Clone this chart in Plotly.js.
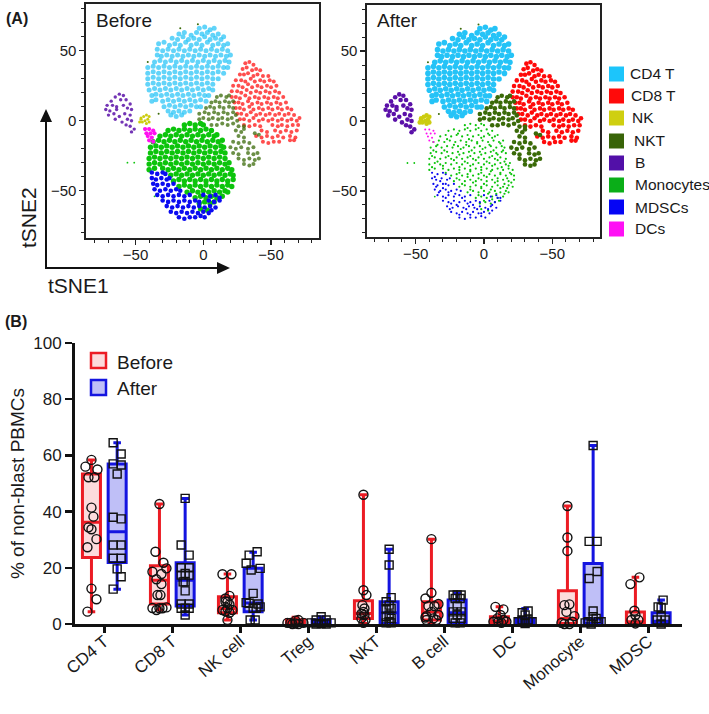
<!DOCTYPE html>
<html><head><meta charset="utf-8">
<script src="https://cdn.plot.ly/plotly-3.0.1.min.js"></script>
<style>html,body{margin:0;padding:0;background:#fff}#c{width:709px;height:714px}</style>
</head><body><div id="c"></div>
<script>
// ---- tSNE clusters: [tSNE1, tSNE2] ----
const cd4Points=[[-3,66],[1,67],[5,65],[8,66],
[-18,62],[-14,63],[-9,61],[-5,63],[-1,62],[3,63],[7,61],[11,62],
[-23,59],[-19,58],[-15,60],[-11,58],[-7,59],[-3,58],[1,60],[5,58],[9,59],[13,58],[15,60],
[-33,55],[-29,56],[-25,54],[-21,55],[-17,54],[-13,56],[-9,54],[-5,55],[-1,54],[3,56],[7,54],[11,55],[15,54],[18,55],
[-34,51],[-30,50],[-26,51],[-22,50],[-18,51],[-14,50],[-10,51],[-6,50],[-2,51],[2,50],[6,51],[10,50],[14,51],[18,50],
[-34,47],[-31,46],[-27,47],[-23,46],[-19,47],[-15,46],[-11,47],[-7,46],[-3,47],[1,46],[5,47],[9,46],[13,47],[17,46],[20,47],
[-36,42],[-32,43],[-28,42],[-24,43],[-20,42],[-16,43],[-12,42],[-8,43],[-4,42],[0,43],[4,42],[8,43],[12,42],[16,43],[19,42],
[-41,38],[-37,39],[-33,38],[-29,39],[-25,38],[-21,39],[-17,38],[-13,39],[-9,38],[-5,39],[-1,38],[3,39],[7,38],[11,39],[15,38],[18,38],
[-41,34],[-37,35],[-33,34],[-29,35],[-25,34],[-21,35],[-17,34],[-13,35],[-9,34],[-5,35],[-1,34],[3,35],[7,34],[11,35],[15,34],
[-41,30],[-37,31],[-33,30],[-29,31],[-25,30],[-21,31],[-17,30],[-13,31],[-9,30],[-5,31],[-1,30],[3,31],[7,30],[11,30],
[-41,26],[-37,27],[-33,26],[-29,27],[-25,26],[-21,27],[-17,26],[-13,27],[-9,26],[-5,27],[-1,26],[3,27],[7,26],
[-40,22],[-36,23],[-32,22],[-28,23],[-24,22],[-20,23],[-16,22],[-12,23],[-8,22],[-4,23],[0,22],[4,23],[7,22],
[-38,18],[-35,19],[-31,18],[-27,19],[-23,18],[-19,19],[-15,18],[-11,19],[-7,18],[-3,19],[1,18],[4,18],
[-38,14],[-35,15],[-30,14],[-26,15],[-22,14],[-18,15],[-14,14],[-10,15],[-6,14],[-2,15],[2,14],
[-29,10],[-25,11],[-21,10],[-17,11],[-13,10],[-9,11],[-5,10],[-2,10],
[-26,7],[-22,6],[-18,7],[-14,6],[-10,7],[-24,4],[-20,3],[-16,4]];
const cd8Points=[[31,41],[34,42],[37,40],
[29,37],[32,38],[36,36],[39,37],[42,36],
[27,33],[30,33],[33,34],[37,32],[40,33],[44,32],[48,32],
[24,29],[28,29],[31,28],[35,30],[38,28],[42,29],[45,28],[49,29],[52,28],
[22,25],[26,25],[29,24],[33,26],[36,24],[40,25],[43,24],[47,25],[50,24],[54,25],
[21,21],[25,21],[28,20],[32,22],[35,20],[39,21],[42,20],[46,21],[49,20],[53,21],[56,20],
[21,17],[24,17],[27,16],[31,18],[34,16],[38,17],[41,16],[45,17],[48,16],[52,17],[55,16],[59,17],
[23,13],[26,13],[29,12],[33,14],[36,12],[40,13],[43,12],[47,13],[50,12],[54,13],[57,12],[61,13],
[24,9],[27,9],[30,8],[34,10],[37,8],[41,9],[44,8],[48,9],[51,8],[55,9],[58,8],[62,9],[65,8],
[25,5],[28,5],[32,4],[35,6],[39,4],[42,5],[46,4],[49,5],[53,4],[56,5],[60,4],[63,5],[67,4],
[27,1],[30,1],[34,0],[37,2],[41,0],[44,1],[48,0],[51,1],[55,0],[58,1],[62,0],[65,1],[69,0],[71,2],
[30,-3],[34,-4],[38,-3],[42,-4],[51,-3],[55,-4],[58,-3],[62,-4],[66,-3],[70,-3],
[43,-7],[47,-8],[53,-7],[57,-8],[61,-7],[65,-8],[69,-7],
[39,-11],[43,-12],[47,-11],[51,-12],[55,-11],[59,-12],[64,-11],[68,-12],
[44,-15],[48,-16],[52,-15],[56,-15],[64,-14],[67,-14]];
const nktPoints=[[10,17],[13,18],[17,17],[19,18],
[6,13],[9,14],[12,13],[16,14],[19,13],[22,14],
[2,9],[5,10],[8,9],[12,10],[15,9],[19,10],[22,9],
[-3,5],[1,6],[4,5],[8,6],[11,5],[15,6],[18,5],[22,6],[24,4],
[-3,1],[0,2],[4,1],[7,2],[11,1],[14,2],[18,1],[21,2],[25,0],
[6,-3],[10,-3],[14,-2],[18,-3],[22,-2],[26,-4],[30,-4],
[24,-7],[28,-8],[30,-6],[26,-11],[30,-12],
[22,-15],[26,-16],[30,-15],[34,-16],
[20,-19],[24,-20],[28,-19],[33,-20],[37,-19],
[22,-23],[26,-24],[33,-23],[37,-24],[40,-23],
[26,-27],[30,-28],[34,-27],[38,-28],[41,-27],
[30,-31],[34,-32],[37,-31],[38,-9],[41,-10]];
const bPoints=[[-62,19],[-59,18],[-65,17],[-68,14],[-61,15],[-57,15],[-54,12],[-71,11],[-67,11],[-72,8],[-69,7],[-64,10],
[-56,9],[-53,8],[-59,11],[-70,4],[-66,5],[-62,3],[-58,5],[-54,4],[-56,1],[-53,0],[-65,1],[-60,-1],[-57,-3],[-54,-4],[-51,-6],[-53,-8],[-64,8]];
const nkPoints=[[-46,1],[-44,3],[-42,4],[-40,3],[-47,-1],[-45,-1],[-43,0],[-41,1],[-40,-1],[-42,-2],[-46,2]];
const dcPoints=[[-43,-6],[-40,-6],[-37,-7],[-42,-9],[-39,-9],[-36,-9],[-41,-11],[-38,-12],[-40,-14],[-37,-15]];
const monoPoints=[[-14,-3],[-10,-2],[-6,-3],[-2,-2],[0,-3],
[-26,-7],[-22,-6],[-18,-7],[-14,-6],[-10,-7],[-6,-6],[-2,-7],[2,-6],[6,-7],
[-32,-11],[-28,-10],[-24,-11],[-20,-10],[-16,-11],[-12,-10],[-8,-11],[-4,-10],[0,-11],[4,-10],[8,-11],[10,-10],
[-37,-15],[-33,-14],[-29,-15],[-25,-14],[-21,-15],[-17,-14],[-13,-15],[-9,-14],[-5,-15],[-1,-14],[3,-15],[7,-14],[11,-15],[14,-14],
[-39,-19],[-35,-18],[-31,-19],[-27,-18],[-23,-19],[-19,-18],[-15,-19],[-11,-18],[-7,-19],[-3,-18],[1,-19],[5,-18],[9,-19],[13,-18],[15,-19],
[-39,-23],[-35,-22],[-31,-23],[-27,-22],[-23,-23],[-19,-22],[-15,-23],[-11,-22],[-7,-23],[-3,-22],[1,-23],[5,-22],[9,-23],[13,-22],[16,-23],
[-40,-27],[-36,-26],[-32,-27],[-28,-26],[-24,-27],[-20,-26],[-16,-27],[-12,-26],[-8,-27],[-4,-26],[0,-27],[4,-26],[8,-27],[12,-26],[16,-27],
[-40,-31],[-36,-30],[-32,-31],[-28,-30],[-24,-31],[-20,-30],[-16,-31],[-12,-30],[-8,-31],[-4,-30],[0,-31],[4,-30],[8,-31],[12,-30],[16,-31],[19,-30],
[-40,-35],[-36,-34],[-30,-34],[-26,-35],[-22,-34],[-18,-35],[-14,-34],[-10,-35],[-6,-34],[-2,-35],[2,-34],[6,-35],[10,-34],[14,-35],[18,-34],[21,-35],
[-24,-39],[-20,-38],[-16,-39],[-12,-38],[-8,-39],[-4,-38],[0,-39],[4,-38],[8,-39],[12,-38],[16,-39],[20,-38],[22,-39],
[-22,-43],[-18,-42],[-14,-43],[-10,-42],[-6,-43],[-2,-42],[2,-43],[6,-42],[10,-43],[14,-42],[18,-43],[22,-42],
[-18,-47],[-14,-46],[-10,-47],[-6,-46],[-2,-47],[2,-46],[6,-47],[10,-46],[14,-47],[18,-46],[21,-47],
[-12,-51],[-8,-50],[-4,-51],[0,-50],[4,-51],[8,-50],[12,-51],[16,-50],[18,-51],
[-6,-55],[-2,-54],[2,-55],[6,-54],[10,-55],[14,-54],[-3,-59],[1,-58],[5,-59],[8,-58],[-2,-63],[3,-64]];
const monoAfterExtra=[[-12,-5],[-4,-5],[3,-9],[-19,-9],[-27,-13],[-11,-13],[-2,-12],[6,-12],[-34,-17],[-22,-17],[-13,-17],[-5,-16],[4,-17],[12,-16],
[-37,-21],[-29,-21],[-17,-20],[-9,-21],[-1,-20],[7,-21],[14,-21],[-38,-25],[-26,-25],[-18,-24],[-10,-25],[-2,-24],[6,-25],[10,-24],
[-34,-29],[-22,-28],[-14,-29],[-6,-28],[2,-29],[10,-28],[15,-29],[-38,-33],[-30,-32],[-18,-33],[-10,-32],[-2,-33],[6,-32],[13,-33],[18,-32],
[-28,-37],[-18,-37],[-10,-36],[-2,-37],[5,-36],[12,-37],[19,-37],[-20,-41],[-12,-40],[-4,-41],[2,-40],[10,-41],[17,-41],[-16,-45],[-8,-44],[0,-45],
[8,-44],[15,-45],[20,-44],[-10,-49],[-2,-48],[5,-49],[12,-48],[17,-48],[-4,-53],[3,-52],[9,-52],[15,-52],[0,-57],[6,-56],[11,-57]];
const mdscPoints=[[-38,-37],[-34,-38],[-30,-37],[-28,-38],
[-38,-41],[-35,-42],[-31,-41],[-27,-42],[-25,-41],
[-37,-45],[-34,-46],[-30,-45],[-26,-46],[-22,-45],
[-36,-49],[-32,-50],[-28,-49],[-24,-50],[-20,-49],[-17,-50],
[-34,-53],[-30,-54],[-26,-53],[-22,-54],[-18,-53],[-14,-54],[-10,-53],[0,-53],[5,-54],[9,-53],[12,-55],
[-30,-57],[-26,-58],[-22,-57],[-18,-58],[-14,-57],[-10,-58],[-6,-57],[-3,-58],[4,-57],[8,-58],[12,-57],
[-27,-61],[-23,-62],[-19,-61],[-15,-62],[-11,-61],[-7,-62],[-3,-61],[1,-62],[5,-61],[9,-62],
[-24,-65],[-20,-66],[-16,-65],[-12,-66],[-8,-65],[-4,-66],[0,-65],[4,-66],[6,-64],
[-18,-69],[-14,-70],[-10,-69],[-6,-69],[-2,-68],[1,-69]];
const mdscAfterExtra=[[-36,-40],[-32,-43],[-28,-45],[-35,-47],[-30,-48],[-26,-51],[-33,-51],[-21,-52],[-28,-55],[-16,-55],[-24,-59],[-12,-59],[-20,-60],[-8,-60],[-25,-63],[-13,-63],[-5,-63],[3,-63],[-18,-67],[-10,-67],[-2,-66],[6,-60],[10,-55]];
const strayGreen=[[-56,-30],[-51,-30],[-36,-54]];
const strayDark=[[-4,69],[-17,66],[-41,42],[-33,5]];
const clusterNames=['CD4 T','CD8 T','NK','NKT','B','Monocytes','MDSCs','DCs'];
const clusterTicks=[-50,0,50];
const clusterTickText=['\u221250','0','\u221250'];
const clusterYTickText=['\u221250','0','50'];

// ---- panel B: categories, box statistics, individual values [value, swarm offset] ----
const categories=['CD4 T','CD8 T','NK cell','Treg','NKT','B cell','DC','Monocyte','MDSC'];
const beforeQ1=[23.7,7.1,4,0.3,2,1.4,0.2,0.2,0.2];
const beforeMedian=[36.2,15.6,5.5,0.8,3.7,4.3,1,2,0.8];
const beforeQ3=[53.4,20.7,9.7,1.5,8.3,7.9,2.6,11.8,4.3];
const beforeLow=[4.4,5,1.4,0.1,0.2,0.2,0.1,0.2,0.2];
const beforeHigh=[58.4,42.7,17.8,2.4,46,30.2,6.1,42,16.6];
const afterQ1=[21.9,6.4,4.4,0.3,0.2,0.4,0.2,0.2,0.2];
const afterMedian=[32.8,15.6,7.5,0.8,4,4,1,1.8,1];
const afterQ3=[56.9,21.8,19.8,1.5,7.9,8.5,2,21.5,4];
const afterLow=[12.4,3.2,1.4,0.1,0.2,0.4,0.1,0.2,0.2];
const afterHigh=[64.5,44.7,25.5,2.6,26.6,10.9,5.5,63.5,8.5];
const beforeValues=[
[[58.4,0],[56,-6],[55,6],[52.2,-3],[52.2,3],[41.4,0],[38.2,2],[34.4,-3],[33.7,0],[30.2,5],[27.3,-4],[12.6,0],[8.8,5],[4.4,-4]],
[[42.7,0],[25.7,-4],[21.8,4],[19.8,7],[18.6,-7],[17.8,2],[15.9,-3],[14.2,2],[10.3,-2],[10.3,1],[5.7,-7],[5.9,7],[5,-3],[5.6,3],[5.6,0]],
[[17.7,-5],[17.7,4],[9.1,-2],[10,2],[7.9,0],[5,-5],[5,5],[1.4,0],[8,-2],[7,2],[5.6,0],[4.5,-2],[4,2]],
[[0.4,-5],[1.4,3],[0.2,0],[0.4,-8],[0.4,8],[0,-3],[0,3],[1.2,0]],
[[46,0],[12,0],[10.3,3],[6.7,-1],[5.5,1],[4.3,0],[3.2,1],[2,-2],[1.4,2],[0.4,0],[3.7,-2]],
[[30.2,0],[11.1,0],[9.1,-6],[7.1,7],[6.4,-3],[6.4,3],[4.3,0],[2.8,-5],[3.2,7],[2,2],[2.3,-6],[1.4,-5],[1.4,5],[-0.4,-1]],
[[6.1,-4],[5.2,4],[3.2,1],[2,-2],[1.4,4],[0.8,-6],[0.8,7],[-0.4,1],[0.8,-1],[0.4,2]],
[[42,0],[30.8,0],[26,0],[6.7,-3],[7,2],[4.3,-1],[2.8,7],[0.4,-6],[0,-3],[0,2],[0.8,5]],
[[16.6,4],[14.2,-5],[4.7,-1],[3.2,0],[1.4,-4],[1.4,3],[0.2,0],[-0.4,-3],[-0.1,3]]];
const afterValues=[
[[64.5,-4],[60.5,4],[57,-4],[56.6,4],[53.4,0],[38,-4],[37.4,4],[28.1,-4],[28.1,4],[23.4,-4],[23.4,4],[19.6,0],[16.8,4],[12.4,-4]],
[[44.7,0],[28.1,-4],[24.5,4],[20,-4],[20,4],[18,0],[17.4,-4],[17.4,4],[15,0],[15,-2],[11.8,0],[7.1,-4],[7.1,4],[5.6,0],[5.6,-4],[5.6,4],[3.2,0]],
[[25.7,4],[24.5,-4],[21.6,-7],[19.2,-2],[19.8,7],[10.9,0],[7.6,-7],[7.4,-4],[7.1,5],[6.1,7],[5.6,0],[5.6,3],[1.4,-3],[1.4,2]],
[[2.6,0],[1.4,-5],[1.4,5],[0.4,-10],[0.4,10],[0.2,0],[0,-5],[0,5]],
[[26.6,0],[21,0],[9.4,2],[7.9,-3],[6.7,0],[5.5,-3],[5.5,2],[3.2,0],[2.6,-3],[2,2],[0.8,0],[0.4,-3],[0.4,2]],
[[10.3,0],[10.3,-4],[10.3,4],[9.1,-2],[9.1,3],[6.4,0],[4.3,-4],[4.3,4],[3.2,0],[2,-4],[2,4],[-0.4,0],[0.4,-2],[0.4,3]],
[[4.6,3],[4,-3],[3.2,0],[0.8,-7],[0.8,7],[0.2,0],[1.4,-3],[1.4,3],[-1,0]],
[[63.5,0],[29.4,-4],[29.4,4],[18.7,4],[16.2,-4],[4.6,0],[0.8,-5],[0.8,5],[2.6,0],[0.4,-8],[2,3],[0.8,8],[0,-2]],
[[8.5,2],[6.1,-3],[5.9,0],[2.6,0],[1.4,-4],[1.4,4],[0,0],[-0.7,-3],[-0.7,3]]];

// ---- helpers: page pixels to paper coordinates ----
const W=709,H=714;
const px=x=>x/W, py=y=>1-y/H;
const FONT='"Liberation Sans", Arial, sans-serif', INK='#1a1a1a';
const colors={'CD4 T':'#25C3F7','CD8 T':'#FF0A0A','NK':'#CCCC10','NKT':'#3A6A08','B':'#5A10A8','Monocytes':'#0CC40C','MDSCs':'#0A0AF0','DCs':'#FF10F0'};
const legendColors=['#1CC5FB','#FF0A0A','#CFCF10','#386408','#5210A8','#0AAE18','#0505F5','#FF10F5'];
const legendCenters=[74,96,118,141,163,185,207,229];
const legendTextX=[628,629,630,632,633,633,633,633];

function cloud(name,pts,size,ax,ay,op){
  return {type:'scatter',mode:'markers',x:pts.map(p=>p[0]),y:pts.map(p=>p[1]),xaxis:ax,yaxis:ay,
    marker:{size:size,color:colors[name],opacity:op||1,line:{width:0}},showlegend:false,hoverinfo:'skip',name:name};
}
const clusterData={'CD4 T':cd4Points,'CD8 T':cd8Points,'NK':nkPoints,'NKT':nktPoints,'B':bPoints,'Monocytes':monoPoints,'MDSCs':mdscPoints,'DCs':dcPoints};
const sizesBefore={'CD4 T':5,'CD8 T':4,'NK':3,'NKT':4,'B':3.4,'Monocytes':5.4,'MDSCs':4.6,'DCs':4.2};
const opacityBefore={'CD4 T':0.72,'CD8 T':0.72,'NK':1,'NKT':0.75,'B':0.85,'Monocytes':1,'MDSCs':1,'DCs':1};
const sizesAfter={'CD4 T':5.6,'CD8 T':4.6,'NK':4.6,'NKT':4.6,'B':4.6,'Monocytes':2.2,'MDSCs':2.2,'DCs':2};
const traces=[];
clusterNames.forEach(n=>traces.push(cloud(n,clusterData[n],sizesBefore[n],'x','y',opacityBefore[n])));
clusterNames.forEach(n=>traces.push(cloud(n,clusterData[n],sizesAfter[n],'x2','y2')));
traces.push(cloud('Monocytes',monoAfterExtra,2.2,'x2','y2'));
traces.push(cloud('MDSCs',mdscAfterExtra,2.2,'x2','y2'));
[['x','y'],['x2','y2']].forEach(a=>{
  traces.push(cloud('Monocytes',strayGreen,1.8,a[0],a[1]));
  traces.push(cloud('NKT',strayDark,2,a[0],a[1]));
});

// panel B
const OFF=0.189, PXU=68;
const boxTrace=(sign,q1,med,q3,lo,hi,col,fill)=>({type:'box',xaxis:'x3',yaxis:'y3',
  x:categories.map((c,i)=>i+sign*OFF),q1:q1,median:med,q3:q3,lowerfence:lo,upperfence:hi,
  width:0.265,whiskerwidth:0.42,line:{color:col,width:3},fillcolor:fill,
  boxpoints:false,showlegend:false,hoverinfo:'skip'});
const RED='#EC1C24',BLUE='#1414E0';
traces.push(boxTrace(-1,beforeQ1,beforeMedian,beforeQ3,beforeLow,beforeHigh,RED,'rgba(236,28,36,0.16)'));
traces.push(boxTrace(1,afterQ1,afterMedian,afterQ3,afterLow,afterHigh,BLUE,'rgba(20,20,224,0.27)'));
const swarm=(vals,sign,sym,size)=>{
  const xs=[],ys=[];
  vals.forEach((g,i)=>g.forEach(p=>{xs.push(i+sign*OFF+p[1]/PXU);ys.push(p[0]);}));
  return {type:'scatter',mode:'markers',x:xs,y:ys,xaxis:'x3',yaxis:'y3',cliponaxis:false,showlegend:false,hoverinfo:'skip',
    marker:{symbol:sym,size:size,color:'#111',line:{color:'#111',width:1.4}}};
};
traces.push(swarm(beforeValues,-1,'circle-open',9));
traces.push(swarm(afterValues,1,'square-open',8));

// ---- layout ----
const tsneAxis=(dom,range,anchor,text,standoff)=>({domain:dom,range:range,anchor:anchor,showgrid:false,zeroline:false,
  showline:true,mirror:true,linecolor:'#222',linewidth:1.6,ticks:'outside',ticklen:5,tickwidth:1.4,tickcolor:'#222',
  tickmode:'array',tickvals:clusterTicks,ticktext:text,ticklabelstandoff:standoff,tickfont:{family:FONT,size:15,color:INK},
  minor:{tickmode:'linear',tick0:0,dtick:10,ticks:'outside',ticklen:3,tickwidth:1,tickcolor:'#222'}});

const shapes=[],ann=[];
const label=(text,x,y,size,extra)=>ann.push(Object.assign({text:text,xref:'paper',yref:'paper',x:px(x),y:py(y),showarrow:false,
  xanchor:'left',yanchor:'middle',font:{family:FONT,size:size,color:INK}},extra||{}));
clusterNames.forEach((n,i)=>{
  const c=legendCenters[i];
  shapes.push({type:'rect',xref:'paper',yref:'paper',x0:px(609),x1:px(624),y0:py(c-7.5),y1:py(c+7.5),fillcolor:legendColors[i],line:{width:0}});
  label(n,legendTextX[i],c,15.5);
});
label('Before',94,20,19); label('After',375,20,19);
label('<b>(A)</b>',4,18,16); label('<b>(B)</b>',3,322,16);
label('tSNE1',46,285,21);
label('tSNE2',28,218,21,{textangle:-90,xanchor:'center'});
const AX='#111';
shapes.push({type:'line',xref:'paper',yref:'paper',x0:px(46),x1:px(46),y0:py(269),y1:py(118),line:{color:AX,width:2}});
shapes.push({type:'line',xref:'paper',yref:'paper',x0:px(45),x1:px(220),y0:py(268),y1:py(268),line:{color:AX,width:2}});
shapes.push({type:'path',xref:'paper',yref:'paper',fillcolor:AX,line:{width:0},
  path:`M ${px(40)} ${py(122)} L ${px(46)} ${py(109)} L ${px(52)} ${py(122)} Z`});
shapes.push({type:'path',xref:'paper',yref:'paper',fillcolor:AX,line:{width:0},
  path:`M ${px(217)} ${py(262)} L ${px(230)} ${py(268)} L ${px(217)} ${py(274)} Z`});
[['Before',352,RED,'rgba(236,28,36,0.16)'],['After',379,BLUE,'rgba(20,20,224,0.27)']].forEach(k=>{
  shapes.push({type:'rect',xref:'paper',yref:'paper',x0:px(91),x1:px(106),y0:py(k[1]+1),y1:py(k[1]+16),fillcolor:k[3],line:{color:k[2],width:2.5}});
  label(k[0],115,k[1]+10,19);
});

const layout={width:W,height:H,margin:{l:0,r:0,t:0,b:0},paper_bgcolor:'#fff',plot_bgcolor:'rgba(0,0,0,0)',showlegend:false,
  boxmode:'overlay',font:{family:FONT,color:INK},shapes:shapes,annotations:ann,
  xaxis:tsneAxis([px(86),px(319)],[-86.6,85.4],'y',clusterTickText,-3),
  yaxis:tsneAxis([py(238),py(4)],[-83.8,83.4],'x',clusterYTickText,0),
  xaxis2:tsneAxis([px(367),px(600)],[-85.6,84.9],'y2',clusterTickText,-3),
  yaxis2:tsneAxis([py(237),py(5)],[-82.9,82.9],'x2',clusterYTickText,0),
  xaxis3:{domain:[px(75),px(682)],range:[-0.431,8.496],anchor:'y3',showgrid:false,zeroline:false,showline:true,linecolor:'#111',linewidth:3,
    ticks:'outside',ticklen:6,tickwidth:2.5,tickcolor:'#111',tickmode:'array',tickvals:categories.map((c,i)=>i),ticktext:categories,
    tickangle:-40,ticklabelstandoff:-8,tickfont:{family:FONT,size:17,color:INK}},
  yaxis3:{domain:[py(624),py(343)],range:[0,100],anchor:'x3',showgrid:false,zeroline:false,showline:true,linecolor:'#111',linewidth:3,
    ticks:'outside',ticklen:7,tickwidth:2.5,tickcolor:'#111',tickmode:'array',tickvals:[0,20,40,60,80,100],
    tickfont:{family:FONT,size:17,color:INK},title:{text:'% of non-blast PBMCs',standoff:4,font:{family:FONT,size:19,color:INK}}}
};
Plotly.newPlot('c',traces,layout,{displayModeBar:false,staticPlot:true});
</script></body></html>
